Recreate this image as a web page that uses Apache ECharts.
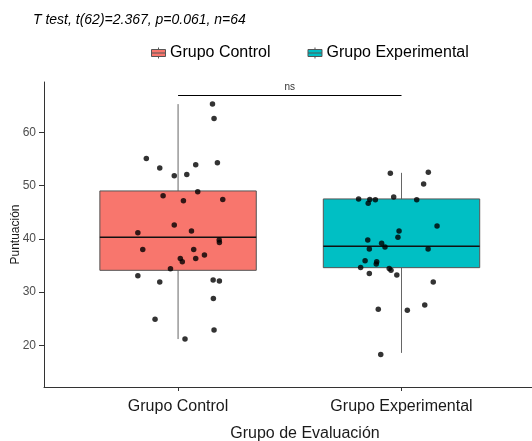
<!DOCTYPE html>
<html>
<head>
<meta charset="utf-8">
<script src="https://cdn.jsdelivr.net/npm/echarts@6/dist/echarts.min.js"></script>
<style>
    html, body { margin: 0; padding: 0; background: #fff; }
    #chart { width: 532px; height: 441px; }
</style>
</head>
<body>
<div id="chart"></div>
<script>
const groups = ['Grupo Control', 'Grupo Experimental'];
const groupPos = [1, 2];
const yTicks = [20, 30, 40, 50, 60];
const testLabel = 'T test, t(62)=2.367, p=0.061, n=64';
const signifLabel = 'ns';
const bracketY = 66.9;

// [min, q1, median, q3, max]
const boxControl = [21.2, 34.1, 40.3, 49.0, 65.3];
const boxExperimental = [18.6, 34.6, 38.6, 47.5, 52.4];

// jittered points: [x position, puntuacion]
const pointsControl = [
    [1.154, 65.3], [1.161, 62.6], [0.858, 55.1], [0.918, 53.3], [0.983, 51.85],
    [1.039, 52.1], [1.079, 53.9], [1.176, 54.3], [1.088, 48.85], [0.933, 48.1],
    [1.024, 47.15], [1.200, 47.4], [0.820, 41.15], [0.983, 42.6], [1.060, 41.5],
    [1.184, 39.8], [1.185, 39.3], [0.842, 38.0], [1.070, 38.0], [1.079, 36.3],
    [1.118, 37.0], [1.010, 36.3], [1.019, 35.7], [0.966, 34.4], [0.820, 33.1],
    [0.918, 31.9], [1.157, 32.3], [1.185, 32.1], [1.158, 28.8], [0.897, 24.9],
    [1.161, 22.9], [1.031, 21.2]
];
const pointsExperimental = [
    [1.950, 52.3], [2.120, 52.5], [2.099, 50.3], [1.808, 47.5], [1.858, 47.4],
    [1.851, 46.7], [1.883, 47.35], [1.965, 47.85], [2.068, 47.35], [2.159, 42.4],
    [1.989, 41.5], [1.984, 40.3], [1.849, 39.8], [1.911, 39.2], [1.926, 38.5],
    [1.856, 38.1], [2.119, 38.1], [1.837, 35.9], [1.889, 35.7], [1.887, 35.3],
    [1.817, 34.65], [1.945, 34.45], [1.953, 34.1], [1.856, 33.5], [1.979, 33.2],
    [2.142, 31.9], [1.896, 26.8], [2.026, 26.6], [2.104, 27.6], [1.907, 18.3]
];

const colors = ['#F8766D', '#00BFC4'];
const FONT = '"Liberation Sans", Arial, sans-serif';
const BOX_HALF = 0.35;

function renderBox(params, api) {
    const x = api.value(0);
    const tl = api.coord([x - BOX_HALF, api.value(4)]);
    const br = api.coord([x + BOX_HALF, api.value(2)]);
    const medL = api.coord([x - BOX_HALF, api.value(3)]);
    const medR = api.coord([x + BOX_HALF, api.value(3)]);
    const wTop = api.coord([x, api.value(5)]);
    const q3 = api.coord([x, api.value(4)]);
    const q1 = api.coord([x, api.value(2)]);
    const wBot = api.coord([x, api.value(1)]);
    const grey = { stroke: '#666', lineWidth: 1 };
    return {
        type: 'group',
        children: [
            { type: 'line', shape: { x1: wTop[0], y1: wTop[1], x2: q3[0], y2: q3[1] }, style: grey },
            { type: 'line', shape: { x1: q1[0], y1: q1[1], x2: wBot[0], y2: wBot[1] }, style: grey },
            {
                type: 'rect',
                shape: { x: tl[0], y: tl[1], width: br[0] - tl[0], height: br[1] - tl[1] },
                style: { fill: api.visual('color'), stroke: '#555', lineWidth: 1 }
            },
            {
                type: 'line',
                shape: { x1: medL[0], y1: medL[1], x2: medR[0], y2: medR[1] },
                style: { stroke: '#111', lineWidth: 1.5 }
            }
        ]
    };
}

const chart = echarts.init(document.getElementById('chart'));
const option = {
    animation: false,
    title: {
        text: testLabel,
        left: 33,
        top: 13,
        padding: 0,
        textStyle: { fontFamily: FONT, fontSize: 14, fontStyle: 'italic', fontWeight: 'normal', color: '#000' }
    },
    legend: {
        data: groups,
        left: 151,
        top: 45,
        padding: 0,
        itemGap: 37,
        itemWidth: 15,
        itemHeight: 11,
        icon: 'path://M0,2H14V9H0Z M0,5.5H14 M7,0V2 M7,9V11',
        itemStyle: { borderColor: '#555', borderWidth: 1 },
        textStyle: { fontFamily: FONT, fontSize: 16, color: '#000', padding: [0, 0, 0, -1] }
    },
    grid: { left: 44, right: 0, top: 82, bottom: 54, outerBoundsMode: 'none' },
    xAxis: {
        type: 'value',
        min: 0.4,
        max: 2.584,
        splitLine: { show: false },
        axisLine: { show: true, lineStyle: { color: '#333', width: 1 } },
        axisTick: { show: true, length: 4, customValues: groupPos, lineStyle: { color: '#333' } },
        axisLabel: {
            customValues: groupPos,
            formatter: v => groups[Math.round(v) - 1],
            fontFamily: FONT,
            fontSize: 16,
            color: '#1a1a1a',
            margin: 12
        },
        name: 'Grupo de Evaluación',
        nameLocation: 'middle',
        nameGap: 39,
        nameMoveOverlap: false,
        nameTextStyle: { fontFamily: FONT, fontSize: 16, color: '#1a1a1a', padding: [0, 0, 0, 34] }
    },
    yAxis: {
        type: 'value',
        min: 12.2,
        max: 69.45,
        splitLine: { show: false },
        axisLine: { show: true, lineStyle: { color: '#333', width: 1 } },
        axisTick: { show: true, length: 5, customValues: yTicks, lineStyle: { color: '#333' } },
        axisLabel: { customValues: yTicks, fontFamily: FONT, fontSize: 12, color: '#4d4d4d', margin: 8 },
        name: 'Puntuación',
        nameLocation: 'middle',
        nameGap: 22,
        nameMoveOverlap: false,
        nameTextStyle: { fontFamily: FONT, fontSize: 12, color: '#1a1a1a' }
    },
    series: [
        {
            name: groups[0],
            type: 'custom',
            renderItem: renderBox,
            itemStyle: { color: colors[0] },
            encode: { x: 0, y: [1, 2, 3, 4, 5] },
            data: [[groupPos[0]].concat(boxControl)],
            z: 2
        },
        {
            name: groups[1],
            type: 'custom',
            renderItem: renderBox,
            itemStyle: { color: colors[1] },
            encode: { x: 0, y: [1, 2, 3, 4, 5] },
            data: [[groupPos[1]].concat(boxExperimental)],
            z: 2
        },
        {
            name: 'puntos control',
            type: 'scatter',
            symbolSize: 5.5,
            itemStyle: { color: '#000' },
            data: pointsControl,
            z: 3,
            markLine: {
                silent: true,
                symbol: 'none',
                lineStyle: { color: '#000', width: 1, type: 'solid' },
                label: { show: true, position: 'middle', formatter: signifLabel, fontFamily: FONT, fontSize: 10, color: '#333', distance: 3 },
                data: [[{ coord: [groupPos[0], bracketY] }, { coord: [groupPos[1], bracketY] }]]
            }
        },
        {
            name: 'puntos experimental',
            type: 'scatter',
            symbolSize: 5.5,
            itemStyle: { color: '#000' },
            data: pointsExperimental,
            z: 3
        }
    ]
};
chart.setOption(option);
</script>
</body>
</html>
